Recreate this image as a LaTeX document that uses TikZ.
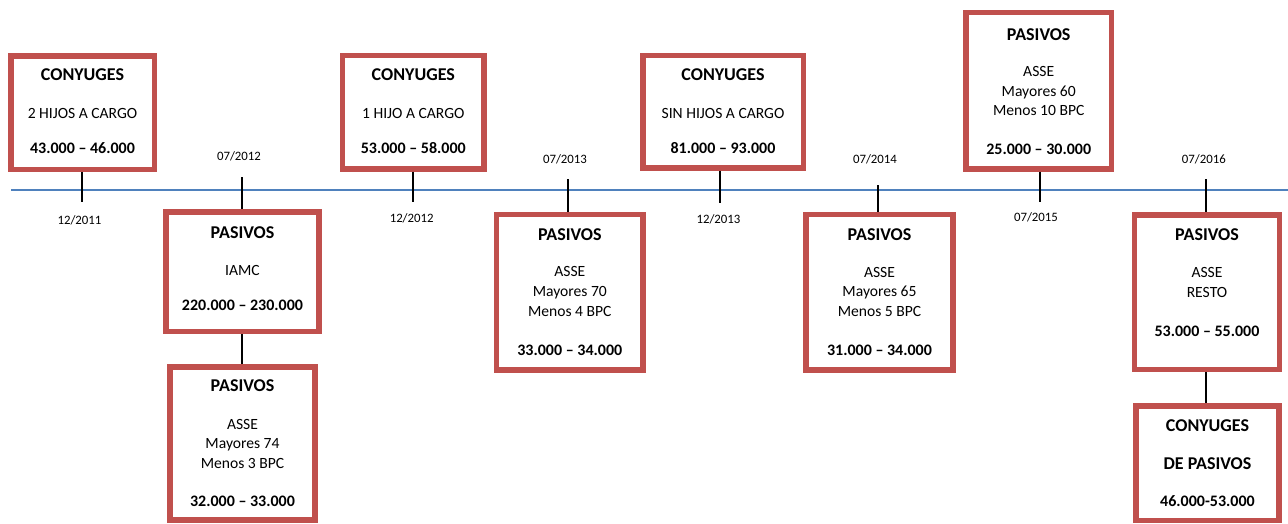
\documentclass[tikz,border=0pt]{standalone}
\usepackage{fontspec}
\setmainfont{Carlito}
\definecolor{boxred}{HTML}{C0504D}
\definecolor{lineblue}{HTML}{4F81BD}
\tikzset{
  x=1pt, y=-1pt,
  rbox/.style={draw=boxred, line width=5.5pt, fill=white, inner sep=0pt},
  ttl/.style={font=\fontsize{18}{20}\selectfont\bfseries, anchor=base, inner sep=0pt},
  body/.style={font=\fontsize{15.6}{18}\selectfont, anchor=base, inner sep=0pt},
  num/.style={font=\fontsize{16}{18}\selectfont\bfseries, anchor=base, inner sep=0pt},
  date/.style={font=\fontsize{12.8}{15}\selectfont, anchor=base, inner sep=0pt},
  tick/.style={draw=black, line width=2pt},
  tline/.style={draw=lineblue, line width=2pt}
}
\begin{document}
\begin{tikzpicture}
\useasboundingbox (0,0) rectangle (1288,523);
% timeline
\coordinate (tl0) at (11,190);
\coordinate (tl1) at (1288,190);
\draw[tline] (tl0) -- (tl1);

% boxes
\node[rbox, minimum width=143.5pt, minimum height=113.5pt] (b1) at (82.5,112.5) {};
\node[rbox, minimum width=152.9pt, minimum height=119.5pt] (b2) at (242.5,271.8) {};
\node[rbox, minimum width=144.9pt, minimum height=153.2pt] (b3) at (242.5,443.6) {};
\node[rbox, minimum width=141.2pt, minimum height=113.5pt] (b4) at (413.3,112.2) {};
\node[rbox, minimum width=146.2pt, minimum height=155.5pt] (b5) at (569.8,292.2) {};
\node[rbox, minimum width=160.5pt, minimum height=112.5pt] (b6) at (723,111.7) {};
\node[rbox, minimum width=146.9pt, minimum height=155.5pt] (b7) at (879.5,292.2) {};
\node[rbox, minimum width=145.2pt, minimum height=156.2pt] (b8) at (1038.7,90.8) {};
\node[rbox, minimum width=145.1pt, minimum height=154.5pt] (b9) at (1207,292.3) {};
\node[rbox, minimum width=142.9pt, minimum height=114.2pt] (b10) at (1207.5,463.2) {};

% ticks
\coordinate (t1) at (82,202);
\coordinate (t2) at (242,177);
\coordinate (t4) at (413,202);
\coordinate (t5) at (568,179);
\coordinate (t6) at (720,203);
\coordinate (t7) at (878,185);
\coordinate (t8) at (1040,202);
\coordinate (t9) at (1206,179);
\draw[tick] (b1.south -| t1) -- (t1);
\draw[tick] (t2) -- (b2.north -| t2);
\draw[tick] (b2.south -| t2) -- (b3.north -| t2);
\draw[tick] (b4.south -| t4) -- (t4);
\draw[tick] (t5) -- (b5.north -| t5);
\draw[tick] (b6.south -| t6) -- (t6);
\draw[tick] (t7) -- (b7.north -| t7);
\draw[tick] (b8.south -| t8) -- (t8);
\draw[tick] (t9) -- (b9.north -| t9);
\draw[tick] (b9.south -| t9) -- (b10.north -| t9);

% dates
\node[date] (d1) at (79.5,224.1) {12/2011};
\node[date] (d2) at (239,160.8) {07/2012};
\node[date] (d3) at (411.7,222.1) {12/2012};
\node[date] (d4) at (565,163.1) {07/2013};
\node[date] (d5) at (718.5,223.4) {12/2013};
\node[date] (d6) at (875,163.4) {07/2014};
\node[date] (d7) at (1036,221.4) {07/2015};
\node[date] (d8) at (1203.8,163.4) {07/2016};

% box 1
\node[ttl] (b1a) at (82.5,80.8) {CONYUGES};
\node[body] (b1b) at (82.5,118.3) {2 HIJOS A CARGO};
\node[num] (b1c) at (82.5,153.3) {43.000 – 46.000};
% box 2
\node[ttl] (b2a) at (242.5,238.1) {PASIVOS};
\node[body] (b2b) at (242.5,275.7) {IAMC};
\node[num] (b2c) at (242.5,310) {220.000 – 230.000};
% box 3
\node[ttl] (b3a) at (242.5,391.8) {PASIVOS};
\node[body] (b3b) at (242.5,429) {ASSE};
\node[body] (b3c) at (242.5,448.3) {Mayores 74};
\node[body] (b3d) at (242.5,468.3) {Menos 3 BPC};
\node[num] (b3e) at (242.5,506.7) {32.000 – 33.000};
% box 4
\node[ttl] (b4a) at (413.3,80.8) {CONYUGES};
\node[body] (b4b) at (413.3,118.3) {1 HIJO A CARGO};
\node[num] (b4c) at (413.3,153.3) {53.000 – 58.000};
% box 5
\node[ttl] (b5a) at (569.8,240.8) {PASIVOS};
\node[body] (b5b) at (569.8,276.7) {ASSE};
\node[body] (b5c) at (569.8,296.7) {Mayores 70};
\node[body] (b5d) at (569.8,316) {Menos 4 BPC};
\node[num] (b5e) at (569.8,355) {33.000 – 34.000};
% box 6
\node[ttl] (b6a) at (723,80.8) {CONYUGES};
\node[body] (b6b) at (723,118.3) {SIN HIJOS A CARGO};
\node[num] (b6c) at (723,153.3) {81.000 – 93.000};
% box 7
\node[ttl] (b7a) at (879.5,240.8) {PASIVOS};
\node[body] (b7b) at (879.5,277) {ASSE};
\node[body] (b7c) at (879.5,296.7) {Mayores 65};
\node[body] (b7d) at (879.5,316) {Menos 5 BPC};
\node[num] (b7e) at (879.5,355) {31.000 – 34.000};
% box 8
\node[ttl] (b8a) at (1038.7,40.1) {PASIVOS};
\node[body] (b8b) at (1038.7,76) {ASSE};
\node[body] (b8c) at (1038.7,96) {Mayores 60};
\node[body] (b8d) at (1038.7,115) {Menos 10 BPC};
\node[num] (b8e) at (1038.7,154) {25.000 – 30.000};
% box 9
\node[ttl] (b9a) at (1207,240.8) {PASIVOS};
\node[body] (b9b) at (1207,277.7) {ASSE};
\node[body] (b9c) at (1207,297.3) {RESTO};
\node[num] (b9d) at (1207,336) {53.000 – 55.000};
% box 10
\node[ttl] (b10a) at (1207.5,431.8) {CONYUGES};
\node[ttl] (b10b) at (1207.5,469.1) {DE PASIVOS};
\node[num] (b10c) at (1207.5,506.7) {46.000-53.000};
\end{tikzpicture}
\end{document}
